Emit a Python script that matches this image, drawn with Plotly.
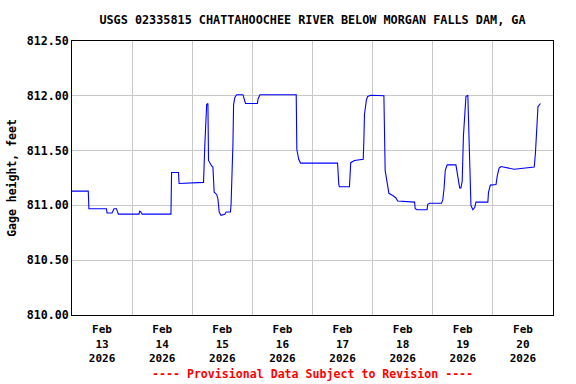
import plotly.graph_objects as go

times = [
    "2026-02-13 00:00", "2026-02-13 06:30", "2026-02-13 06:45", "2026-02-13 13:45", "2026-02-13 14:00",
    "2026-02-13 16:00", "2026-02-13 16:45", "2026-02-13 17:45", "2026-02-13 18:30",
    "2026-02-14 02:45", "2026-02-14 03:00", "2026-02-14 03:30", "2026-02-14 04:00",
    "2026-02-14 15:30", "2026-02-14 15:45", "2026-02-14 18:30", "2026-02-14 18:45",
    "2026-02-15 04:30", "2026-02-15 05:00", "2026-02-15 05:45", "2026-02-15 06:15", "2026-02-15 06:30",
    "2026-02-15 07:45", "2026-02-15 08:15", "2026-02-15 08:45", "2026-02-15 09:45", "2026-02-15 10:15",
    "2026-02-15 10:45", "2026-02-15 11:30", "2026-02-15 13:00", "2026-02-15 13:30", "2026-02-15 15:15",
    "2026-02-15 15:30", "2026-02-15 16:00", "2026-02-15 16:15", "2026-02-15 16:30", "2026-02-15 17:00",
    "2026-02-15 17:45", "2026-02-15 20:15", "2026-02-15 20:45", "2026-02-15 21:15",
    "2026-02-16 02:00", "2026-02-16 02:15", "2026-02-16 03:00", "2026-02-16 17:30", "2026-02-16 17:45",
    "2026-02-16 18:30", "2026-02-16 19:15",
    "2026-02-17 10:00", "2026-02-17 10:30", "2026-02-17 10:45", "2026-02-17 14:45", "2026-02-17 15:15",
    "2026-02-17 16:45", "2026-02-17 20:15", "2026-02-17 20:30", "2026-02-17 20:45", "2026-02-17 21:30",
    "2026-02-17 22:00", "2026-02-17 23:15",
    "2026-02-18 04:30", "2026-02-18 05:00", "2026-02-18 05:45", "2026-02-18 06:30", "2026-02-18 08:00",
    "2026-02-18 09:15", "2026-02-18 10:00", "2026-02-18 16:45", "2026-02-18 17:00", "2026-02-18 17:45",
    "2026-02-18 21:45", "2026-02-18 22:00", "2026-02-18 22:45",
    "2026-02-19 03:30", "2026-02-19 04:00", "2026-02-19 04:30", "2026-02-19 05:00", "2026-02-19 05:45",
    "2026-02-19 09:15", "2026-02-19 09:45", "2026-02-19 10:15", "2026-02-19 10:45", "2026-02-19 11:15",
    "2026-02-19 11:45", "2026-02-19 12:15", "2026-02-19 12:45", "2026-02-19 13:15", "2026-02-19 14:00",
    "2026-02-19 14:15", "2026-02-19 14:45", "2026-02-19 15:00", "2026-02-19 15:15", "2026-02-19 16:00",
    "2026-02-19 16:45", "2026-02-19 17:15", "2026-02-19 22:00", "2026-02-19 22:15", "2026-02-19 23:00",
    "2026-02-20 01:15", "2026-02-20 01:45", "2026-02-20 02:30", "2026-02-20 03:15", "2026-02-20 08:30",
    "2026-02-20 16:30", "2026-02-20 17:00", "2026-02-20 17:45", "2026-02-20 18:00", "2026-02-20 19:00",
]

gage_ft = [
    811.13, 811.13, 810.97, 810.97, 810.93,
    810.93, 810.97, 810.97, 810.92,
    810.92, 810.95, 810.94, 810.92,
    810.92, 811.30, 811.30, 811.20,
    811.21, 811.54, 811.92, 811.93, 811.41,
    811.36, 811.35, 811.12, 811.10, 811.06,
    810.94, 810.91, 810.92, 810.94, 810.94,
    811.01, 811.30, 811.57, 811.92, 811.985,
    812.01, 812.01, 811.97, 811.93,
    811.93, 811.97, 812.01, 812.01, 811.51,
    811.42, 811.386,
    811.386, 811.19, 811.17, 811.17, 811.39,
    811.41, 811.42, 811.59, 811.83, 811.96,
    811.994, 812.005,
    812.0, 811.32, 811.19, 811.11, 811.09,
    811.07, 811.04, 811.03, 810.97, 810.96,
    810.96, 811.01, 811.02,
    811.02, 811.05, 811.15, 811.32, 811.37,
    811.37, 811.30, 811.19, 811.16, 811.16,
    811.22, 811.635, 811.89, 811.994, 812.005,
    811.79, 811.44, 811.18, 811.0, 810.96,
    810.98, 811.03, 811.03, 811.12, 811.185,
    811.19, 811.27, 811.34, 811.355, 811.33,
    811.35, 811.48, 811.73, 811.90, 811.93,
]

day_ticks = ["2026-02-%02d 12:00" % d for d in range(13, 21)]
day_labels = ["Feb<br>%d<br>2026" % d for d in range(13, 21)]
y_ticks = [810.0, 810.5, 811.0, 811.5, 812.0, 812.5]
y_labels = ["810.00", "810.50", "811.00", "811.50", "812.00", "812.50"]

FONT = "DejaVu Sans Mono"

fig = go.Figure()
fig.add_trace(go.Scatter(x=times, y=gage_ft, mode="lines",
                         line=dict(color="#0000ff", width=1.1), showlegend=False))

fig.update_layout(
    width=576, height=384,
    margin=dict(l=72, r=23, t=41, b=69),
    paper_bgcolor="white", plot_bgcolor="white",
    font=dict(family=FONT, size=11.5, color="black", weight="bold"),
    title=dict(text="USGS 02335815 CHATTAHOOCHEE RIVER BELOW MORGAN FALLS DAM, GA",
               x=0.5425, xanchor="center", y=1 - 20 / 384, yanchor="middle", yref="container",
               font=dict(family=FONT, size=11.8, color="black", weight="bold")),
    xaxis=dict(range=["2026-02-13 00:00", "2026-02-21 00:00"], type="date",
               tickvals=day_ticks, ticktext=day_labels, ticks="", showgrid=False,
               minor=dict(dtick=86400000, tick0="2026-02-13 00:00", showgrid=True,
                          gridcolor="#c8c8c8", gridwidth=1, ticks=""),
               showline=True, linecolor="black", linewidth=1, mirror=True,
               tickfont=dict(family=FONT, size=11, color="black", weight="bold"),
               ticklabelstandoff=4,
               zeroline=False, automargin=False),
    yaxis=dict(range=[810.0, 812.5], tickvals=y_ticks, ticktext=y_labels, ticks="",
               showgrid=True, gridcolor="#c8c8c8", gridwidth=1,
               showline=True, linecolor="black", linewidth=1, mirror=True,
               tickfont=dict(family=FONT, size=11.6, color="black", weight="bold"),
               title=dict(text="Gage height, feet", standoff=7,
                          font=dict(family=FONT, size=11.5, color="black", weight="bold")),
               zeroline=False, automargin=False),
)

fig.add_annotation(text="---- Provisional Data Subject to Revision ----",
                   xref="paper", yref="paper", x=0.5, y=-(374 - 315) / 274,
                   xanchor="center", yanchor="middle", showarrow=False,
                   font=dict(family=FONT, size=11.6, color="red", weight="bold"))

fig.write_html("out.html", config={"displayModeBar": False},
               post_script="document.body.style.margin='0';document.body.style.overflow='hidden';")
